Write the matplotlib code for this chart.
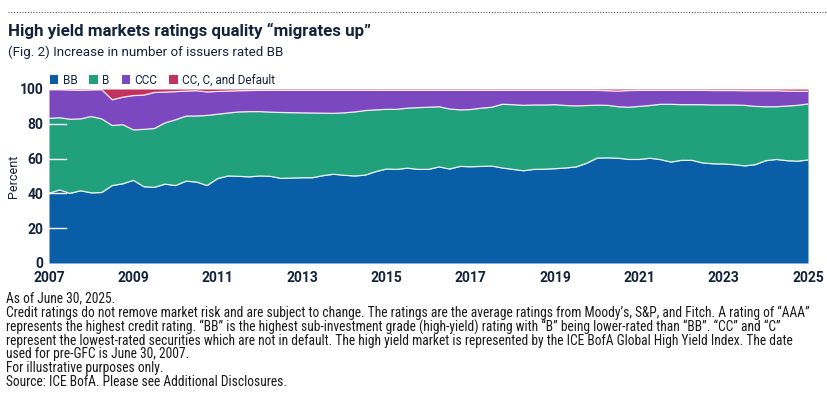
import numpy as np
import matplotlib
matplotlib.use("Agg")
import matplotlib.pyplot as plt
from matplotlib.patches import Patch
from matplotlib.lines import Line2D
from matplotlib import font_manager
from matplotlib.font_manager import FontProperties

# quarterly dates, 2007 -> mid 2025
dates = np.arange(2007, 2025.01, 0.25)

# upper edge of each band (cumulative percent)
bb_top = [40, 42, 40, 41.5,
          40.3, 40.5, 44.5, 45.5,
          47.5, 43.8, 43.5, 45.3,
          44.5, 47, 46.5, 44.5,
          48.5, 50, 49.8, 49.5,
          50, 49.8, 48.6, 48.8,
          49, 49, 50.2, 51,
          50.4, 50, 50.5, 52.5,
          54, 53.8, 54.5, 53.8,
          53.8, 55.2, 54, 55.5,
          55.3, 55.5, 55.7, 54.6,
          53.8, 53, 53.8, 53.9,
          54.2, 54.6, 55.2, 57.3,
          60.3, 60.4, 60.2, 59.5,
          59.5, 60.2, 59.4, 58,
          59, 59, 57.5, 57,
          56.9, 56.5, 55.8, 56.5,
          58.8, 59.5, 58.8, 58.5,
          59.2]

b_top = [83.1, 83.5, 82.6, 82.8,
         84.2, 82.8, 79, 79.5,
         76.5, 76.8, 77.3, 80.5,
         82.3, 84.4, 84.5, 84.8,
         85.5, 86.2, 86.8, 87,
         87, 86.7, 86.5, 86.4,
         86.3, 86.2, 86.1, 86,
         86.3, 86.8, 87.6, 88,
         88.3, 88.3, 89, 89.3,
         89.5, 89.8, 88.5, 88,
         88.2, 89, 89.5, 91.2,
         91, 90.6, 90.8, 90.8,
         91, 90.5, 90.3, 90.5,
         90.7, 90.6, 89.8, 89.5,
         90, 90.5, 91.2, 91.2,
         91, 91, 91, 90.8,
         90.8, 90.8, 90.6, 90,
         89.8, 89.8, 90.2, 90.6,
         91.4]

ccc_top = [99.6, 99.6, 99.4, 99.2,
           99.5, 99.6, 93.8, 95.3,
           96.2, 96.5, 98, 98.2,
           98.5, 98.8, 99, 98.3,
           98.6, 98.8, 99, 99.1,
           99.2, 99.2, 99.2, 99.2,
           99.2, 99.2, 99.2, 99.2,
           99.2, 99.2, 99.2, 99.2,
           99.2, 99.2, 99.2, 99.2,
           99.2, 99.2, 99.2, 99.2,
           99.2, 99.2, 99.2, 99.2,
           99.2, 99.2, 99.2, 99.2,
           99.2, 99.2, 99.2, 99.2,
           99.2, 99, 98.8, 99.1,
           99.2, 99.2, 99.2, 99.2,
           99.2, 99.2, 99.2, 99.1,
           99.1, 99.1, 99, 99,
           99, 99, 98.8, 98.7,
           98.7]

labels = ["BB", "B", "CCC", "CC, C, and Default"]
colors = ["#0a5ea8", "#21a07c", "#7b48bf", "#c2325c"]
year_ticks = list(range(2007, 2026, 2))

navy = "#14233c"
plt.rcParams["font.family"] = ["Roboto", "DejaVu Sans"]

# look for a condensed face for the footnotes
installed = {f.name for f in font_manager.fontManager.ttflist}
narrow_props = None
for name in ["Liberation Sans Narrow", "Roboto Condensed", "DejaVu Sans Condensed"]:
    if name in installed:
        narrow_props = dict(family=name)
        break
if narrow_props is None:
    p = font_manager.findfont(FontProperties(family="DejaVu Sans", stretch="condensed"))
    if "Condensed" in p:
        narrow_props = dict(family="DejaVu Sans", fontstretch="condensed")
    else:
        narrow_props = dict(family="Roboto")

fig = plt.figure(figsize=(8.28, 3.99), dpi=100)
ax = fig.add_axes([49 / 828, 1 - 263 / 399, 759 / 828, 174 / 399])

levels = [np.zeros(len(dates)), np.array(bb_top), np.array(b_top),
          np.array(ccc_top), np.full(len(dates), 100.0)]
for i in range(4):
    ax.fill_between(dates, levels[i], levels[i + 1], color=colors[i], lw=0)
for lv in levels[1:4]:
    ax.plot(dates, lv, color="white", lw=0.9, alpha=0.9)

# short white grid stubs on the left edge
for yv in [20, 40, 60, 80]:
    ax.axhline(yv, xmin=0, xmax=0.022, color="white", lw=1)

ax.set_xlim(2007, 2025)
ax.set_ylim(0, 100)
ax.set_xticks(year_ticks)
ax.set_xticklabels([str(y) for y in year_ticks], fontweight="bold",
                   fontsize=10, color=navy)
ax.set_yticks([0, 20, 40, 60, 80, 100])
ax.set_yticklabels(["0", "20", "40", "60", "80", "100"], fontweight="bold",
                   fontsize=10, color=navy)
ax.tick_params(axis="x", length=0, pad=6)
ax.tick_params(axis="y", length=0, pad=4)
ax.set_ylabel("Percent", fontsize=9, color=navy)
ax.yaxis.set_label_coords(-0.038, 0.5)
for s in ax.spines.values():
    s.set_visible(False)

# dotted rule at top
fig.add_artist(Line2D([8 / 828, 1], [1 - 12 / 399] * 2, transform=fig.transFigure,
                      color="#555555", lw=0.8, ls=(0, (1, 1.5))))

fig.text(8 / 828, 1 - 31 / 399, "High yield markets ratings quality \u201cmigrates up\u201d",
         fontsize=12.2, fontweight="bold", color=navy, va="center")
fig.text(8 / 828, 1 - 52 / 399, "(Fig. 2) Increase in number of issuers rated BB",
         fontsize=9.6, color=navy, va="center")

handles = [Patch(facecolor=c, edgecolor="none") for c in colors]
fig.legend(handles, labels, loc="center left", bbox_to_anchor=(44 / 828, 1 - 80 / 399),
           ncol=4, frameon=False, fontsize=8.5, handlelength=0.7, handleheight=0.7,
           handletextpad=0.4, columnspacing=1.0, borderpad=0, labelcolor=navy)

notes = [
    "As of June 30, 2025.",
    "Credit ratings do not remove market risk and are subject to change. The ratings are the average ratings from Moody\u2019s, S&P, and Fitch. A rating of \u201cAAA\u201d",
    "represents the highest credit rating. \u201cBB\u201d is the highest sub-investment grade (high-yield) rating with \u201cB\u201d being lower-rated than \u201cBB\u201d. \u201cCC\u201d and \u201cC\u201d",
    "represent the lowest-rated securities which are not in default. The high yield market is represented by the ICE BofA Global High Yield Index. The date",
    "used for pre-GFC is June 30, 2007.",
    "For illustrative purposes only.",
    "Source: ICE BofA. Please see Additional Disclosures.",
]
note_y = [298, 313, 327, 341, 354, 368, 382]
note_texts = [fig.text(6 / 828, 1 - yy / 399, t, fontsize=9.3, color="#1a1a1a",
                       va="center", **narrow_props)
              for t, yy in zip(notes, note_y)]

# fit the longest footnote line to the width it takes in the original
fig.canvas.draw()
r = fig.canvas.get_renderer()
widest = max(t.get_window_extent(r).width for t in note_texts)
size = min(10.5, 9.3 * 809 / widest)
for t in note_texts:
    t.set_fontsize(size)

fig.savefig("out.png", dpi=100, facecolor="white")
